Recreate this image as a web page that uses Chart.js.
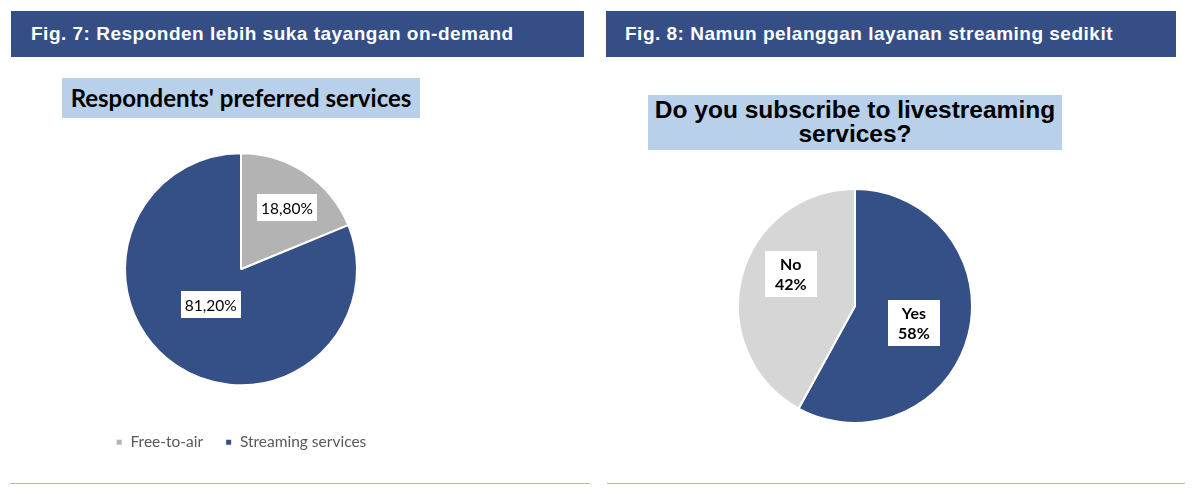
<!DOCTYPE html>
<html>
<head>
<meta charset="utf-8">
<script src="https://cdn.jsdelivr.net/npm/chart.js@4.4.1/dist/chart.umd.min.js"></script>
<style>
  html, body { margin:0; padding:0; background:#ffffff; width:1194px; height:494px; overflow:hidden; }
  .hdr { position:absolute; top:11px; height:46px; background:#364E86; color:#fff;
         font-family:"Liberation Sans", Arial, sans-serif; font-weight:bold; font-size:19px; letter-spacing:0.5px;
         line-height:46px; box-sizing:border-box; padding-left:20px; white-space:nowrap; }
  .sub { position:absolute; background:#B8D0EA; color:#000; font-weight:bold; text-align:center; white-space:nowrap; }
  .rule { position:absolute; top:483px; height:1px; background:#A7BAD9; }
  canvas { position:absolute; }
</style>
</head>
<body>
<div class="hdr" style="left:11px; width:573px;">Fig. 7: Responden lebih suka tayangan on-demand</div>
<div class="hdr" style="left:606px; width:570px; padding-left:19px;">Fig. 8: Namun pelanggan layanan streaming sedikit</div>

<div class="sub" style="left:62px; top:78px; width:358px; height:40px; line-height:40px; font-family:Lato, 'Open Sans', sans-serif; font-size:24px;">Respondents' preferred services</div>
<div class="sub" style="left:648px; top:95px; width:414px; height:55px; font-family:'Liberation Sans', Arial, sans-serif; font-size:24.5px; line-height:24px; padding-top:3px; box-sizing:border-box;">Do you subscribe to livestreaming<br>services?</div>

<div class="rule" style="left:10px; width:580px;"></div>
<div class="rule" style="left:607px; width:578px;"></div>

<div style="position:absolute; left:10px; top:103px; width:462px; height:357px;"><canvas id="c1"></canvas></div>
<div style="position:absolute; left:655px; top:180px; width:400px; height:252px;"><canvas id="c2"></canvas></div>

<script>
// ---- Data ----
const fig7Categories = ["Free-to-air", "Streaming services"];
const fig7Values = [18.8, 81.2];
const fig7Labels = ["18,80%", "81,20%"];

const fig8Categories = ["Yes", "No"];
const fig8Values = [58, 42];
const fig8Labels = [["Yes", "58%"], ["No", "42%"]];

// ---- Label plugin: white boxes with text near arc mid-angle ----
const boxLabels = {
  id: 'boxLabels',
  afterDatasetsDraw(chart, args, opts) {
    const ctx = chart.ctx;
    const meta = chart.getDatasetMeta(0);
    meta.data.forEach((arc, i) => {
      const mid = (arc.startAngle + arc.endAngle) / 2;
      const d = arc.outerRadius * opts.dist[i];
      const sh = (opts.shift && opts.shift[i]) || [0, 0];
      const x = arc.x + Math.cos(mid) * d + sh[0];
      const y = arc.y + Math.sin(mid) * d + sh[1];
      let lines = opts.texts[i];
      if (!Array.isArray(lines)) lines = [lines];
      ctx.save();
      ctx.font = opts.font;
      const w = opts.boxW, h = opts.boxH;
      ctx.fillStyle = '#ffffff';
      ctx.fillRect(Math.round(x - w / 2), Math.round(y - h / 2), w, h);
      ctx.fillStyle = '#000000';
      ctx.textAlign = 'center';
      ctx.textBaseline = 'middle';
      const lh = opts.lineH;
      const y0 = y - (lines.length - 1) * lh / 2;
      lines.forEach((t, k) => ctx.fillText(t, x, y0 + k * lh + 1));
      ctx.restore();
    });
  }
};

new Chart(document.getElementById('c1'), {
  type: 'pie',
  data: {
    labels: fig7Categories,
    datasets: [{
      data: fig7Values,
      backgroundColor: ['#B3B3B3', '#354F87'],
      borderColor: '#ffffff',
      borderWidth: 2,
      radius: 116
    }]
  },
  options: {
    responsive: true,
    maintainAspectRatio: false,
    animation: false,
    layout: { padding: { top: 23 } },
    plugins: {
      tooltip: { enabled: false },
      legend: {
        position: 'bottom',
        labels: {
          boxWidth: 7, boxHeight: 7, padding: 22,
          color: '#595959',
          font: { family: 'Lato, "Open Sans", sans-serif', size: 15.5 }
        }
      },
      boxLabels: {
        texts: fig7Labels,
        dist: [0.68, 0.36],
        shift: [[2, 4], [-7, 1]],
        font: '15.5px Lato, "Open Sans", sans-serif',
        boxW: 60, boxH: 27, lineH: 17
      }
    }
  },
  plugins: [boxLabels]
});

new Chart(document.getElementById('c2'), {
  type: 'pie',
  data: {
    labels: fig8Categories,
    datasets: [{
      data: fig8Values,
      backgroundColor: ['#354F87', '#D6D6D6'],
      borderColor: '#ffffff',
      borderWidth: 2,
      radius: 117
    }]
  },
  options: {
    responsive: true,
    maintainAspectRatio: false,
    animation: false,
    plugins: {
      tooltip: { enabled: false },
      legend: { display: false },
      boxLabels: {
        texts: fig8Labels,
        dist: [0.52, 0.62],
        shift: [[0, 2], [6, -14]],
        font: 'bold 16px Lato, "Open Sans", sans-serif',
        boxW: 52, boxH: 46, lineH: 20
      }
    }
  },
  plugins: [boxLabels]
});
</script>
</body>
</html>
